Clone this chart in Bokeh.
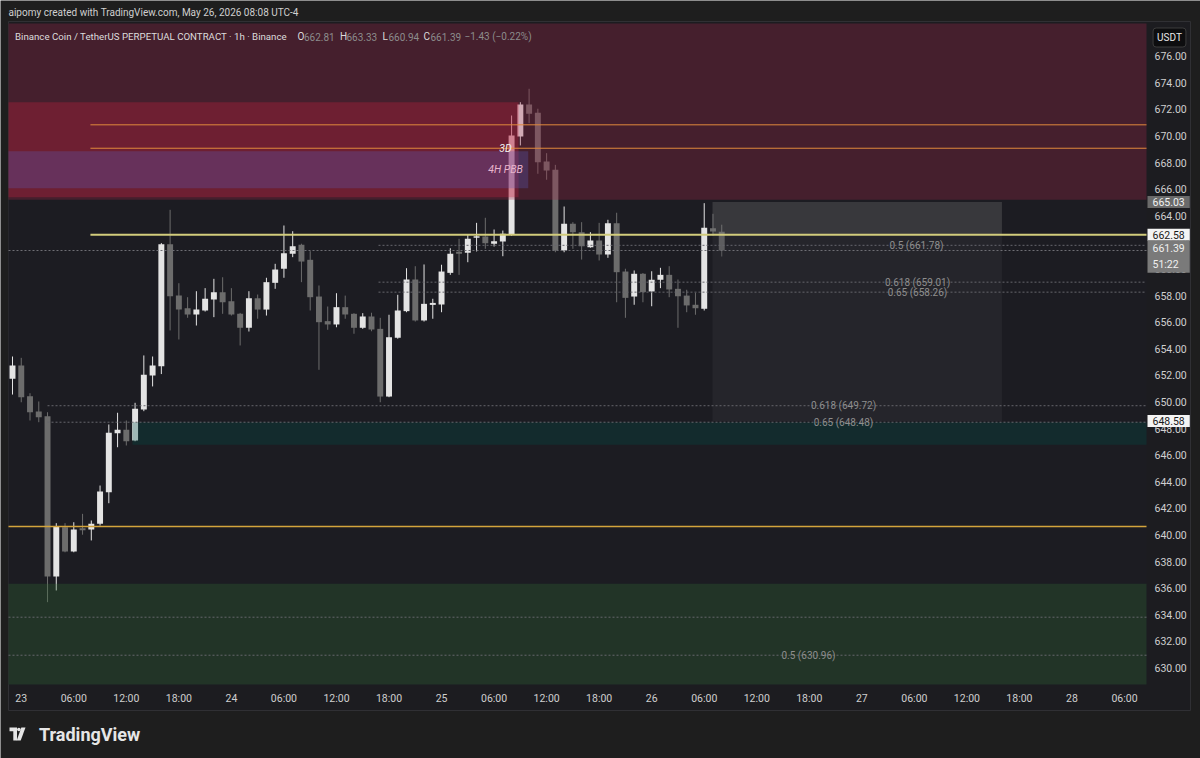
import numpy as np
from bokeh.plotting import figure
from bokeh.models import Range1d, FixedTicker, NumeralTickFormatter, Label, ColumnDataSource, LinearAxis
from bokeh.embed import file_html
from bokeh.resources import INLINE

# ---------------- data (BNB/USDT perpetual, 1h) ----------------
# hour offset from 23 May 00:00 (UTC-4)
hours = list(range(-1, 81))
opens = [651.74, 652.74, 650.44, 649.29, 648.93, 636.88, 640.59, 638.76, 640.45, 640.41,
         640.84, 643.22, 647.65, 647.91, 647.10, 649.44, 651.99, 652.69, 661.86, 658.00,
         657.05, 656.58, 656.88, 657.71, 658.26, 657.58, 656.63, 655.58, 657.80, 656.95,
         658.96, 660.02, 661.14, 661.82, 660.69, 657.93, 656.08, 655.83, 657.13, 656.63,
         655.58, 656.43, 655.50, 650.41, 654.83, 656.83, 659.21, 656.13, 657.30, 657.33,
         659.71, 661.25, 661.22, 662.35, 662.44, 661.89, 662.07, 662.59, 669.96, 672.37,
         671.74, 668.08, 667.46, 661.39, 663.40, 662.77, 661.64, 662.14, 661.09, 663.44,
         659.81, 657.93, 659.64, 658.31, 659.19, 659.56, 658.51, 658.00, 657.31, 657.01,
         663.07, 662.81]
highs = [653.42, 653.32, 650.66, 650.04, 649.23, 640.89, 640.89, 640.96, 641.59, 641.09,
         643.72, 648.31, 649.19, 648.61, 649.94, 653.50, 653.42, 661.95, 664.45, 658.93,
         657.88, 658.33, 658.56, 659.26, 659.38, 658.56, 656.70, 658.33, 658.08, 659.34,
         660.39, 663.27, 662.84, 661.90, 661.34, 658.76, 657.18, 658.18, 658.00, 656.68,
         656.68, 656.71, 656.33, 656.56, 658.06, 660.06, 660.21, 660.34, 657.76, 660.32,
         661.56, 662.27, 662.57, 663.47, 663.85, 662.97, 662.89, 671.54, 672.54, 673.55,
         672.05, 668.71, 667.83, 664.70, 663.52, 663.52, 662.77, 663.47, 663.70, 664.23,
         660.02, 659.89, 659.70, 659.83, 660.09, 660.21, 659.21, 658.44, 658.21, 664.95,
         664.15, 663.33]
lows = [650.56, 649.98, 648.61, 648.48, 634.95, 635.83, 638.70, 638.70, 640.02, 639.59,
        640.71, 642.39, 646.60, 646.73, 647.05, 649.31, 651.17, 652.10, 655.38, 654.70,
        656.33, 655.75, 656.80, 656.38, 656.63, 656.50, 654.25, 655.30, 656.26, 656.50,
        658.51, 659.34, 660.89, 659.01, 656.88, 652.42, 655.43, 655.62, 656.26, 655.13,
        655.50, 655.32, 649.98, 650.36, 654.76, 656.75, 656.05, 656.05, 656.26, 656.75,
        659.56, 659.56, 660.51, 661.32, 661.52, 661.69, 660.96, 662.50, 669.29, 670.96,
        667.16, 666.71, 661.26, 661.26, 661.52, 660.71, 661.60, 660.64, 660.84, 657.50,
        656.33, 657.31, 657.50, 657.20, 658.56, 657.88, 655.58, 656.75, 656.56, 656.88,
        662.50, 660.94]
closes = [652.74, 650.36, 649.23, 648.86, 636.88, 640.64, 638.76, 640.41, 640.40, 640.84,
          643.27, 647.68, 647.91, 647.05, 649.49, 652.05, 652.74, 661.86, 657.95, 656.95,
          656.58, 656.95, 657.76, 658.26, 657.50, 656.58, 655.58, 657.80, 656.95, 659.01,
          659.96, 661.19, 661.71, 660.56, 657.88, 656.00, 655.83, 657.13, 656.58, 655.58,
          656.43, 655.45, 650.41, 654.87, 656.88, 659.21, 656.13, 657.38, 657.45, 659.81,
          661.14, 661.20, 662.27, 662.47, 661.94, 662.09, 662.65, 670.04, 672.37, 671.67,
          668.03, 667.41, 661.39, 663.40, 662.77, 661.71, 662.14, 661.09, 663.44, 659.76,
          657.83, 659.64, 658.26, 659.19, 659.56, 658.46, 657.95, 657.26, 657.05, 663.10,
          662.82, 661.39]

x_tick_hours = list(range(0, 127, 6))
x_tick_labels = ["23", "06:00", "12:00", "18:00", "24", "06:00", "12:00", "18:00",
                 "25", "06:00", "12:00", "18:00", "26", "06:00", "12:00", "18:00",
                 "27", "06:00", "12:00", "18:00", "28", "06:00"]
y_ticks = list(range(630, 677, 2))

# zones: price bottom/top, time start/end (None = chart edge)
zone_bottom = [665.20, 665.40, 666.08, 646.78, None]
zone_top = [None, 672.54, 668.86, 648.48, 636.33]
zone_start = [None, None, None, 12.7, None]
zone_end = [None, 56.8, 57.9, None, None]

# horizontal rays
ray_levels = [670.84, 669.08, 662.58, 640.64]
ray_start = [7.9, 7.9, 7.9, None]

# fib levels
fib_ratio = ["0.5", "0.618", "0.65", "0.618", "0.65", None, "0.5"]
fib_levels = [661.78, 659.01, 658.26, 649.72, 648.48, 633.82, 630.96]
fib_start = [40.8, 40.8, 40.8, 3.0, 3.0, None, None]

# position tool
pos_target, pos_entry, pos_stop = 665.03, 662.58, 648.58
pos_t0, pos_t1 = 78.95, 112.0

# ---------------- geometry (page pixel -> data) ----------------
W, H = 1200, 758
PXH = 8.756     # px per hour
PXP = 13.3      # px per price unit


def hx(px):
    return -1 + (px - 12) / PXH


def py(pyy):
    return 676 - (pyy - 55.7) / PXP


L, R, T, B = hx(8), hx(1146), py(23), py(684)

OUTER = "#1e1e1e"
PANEL = "#1c1c20"
BG = "#1c1c22"
UP = "#e4e4e4"
DOWN = "#6c6c6c"
FONT = "Roboto"

p = figure(width=W, height=H, x_range=Range1d(hx(0), hx(W)), y_range=Range1d(py(H), py(0)),
           output_backend="svg", toolbar_location=None, x_axis_location=None, y_axis_location=None,
           min_border_left=0, min_border_right=0, min_border_top=0, min_border_bottom=0,
           background_fill_color=OUTER, border_fill_color=OUTER)
p.outline_line_color = None
p.xgrid.visible = False
p.ygrid.visible = False

# panel backgrounds
p.quad(left=hx(8), right=hx(1190), top=py(21), bottom=py(710), fill_color=PANEL,
       line_color="#303034", line_width=1)
p.quad(left=L, right=R, top=T, bottom=B, fill_color=BG, line_color=None)

# axes (drawn at the panel edges)
xax = LinearAxis(fixed_location=B, ticker=FixedTicker(ticks=x_tick_hours))
xax.major_label_overrides = {h: l for h, l in zip(x_tick_hours, x_tick_labels)}
yax = LinearAxis(fixed_location=R, ticker=FixedTicker(ticks=y_ticks),
                 formatter=NumeralTickFormatter(format="0.00"))
for ax in (xax, yax):
    ax.axis_line_color = None
    ax.major_tick_line_color = None
    ax.minor_tick_line_color = None
    ax.major_tick_out = 0
    ax.major_tick_in = 0
    ax.major_label_text_color = "#cfcfcf"
    ax.major_label_text_font = FONT
    ax.major_label_text_font_size = "10.5px"
xax.major_label_standoff = 7
yax.major_label_standoff = 8
p.add_layout(xax, "below")
p.add_layout(yax, "right")

# candles
o = np.array(opens); c = np.array(closes)
up = c >= o
colors = [UP if u else DOWN for u in up]
bt = np.maximum(o, c); bb = np.minimum(o, c)
thin = (bt - bb) < 0.1
bt = np.where(thin, bt + 0.05, bt); bb = np.where(thin, bb - 0.05, bb)
src = ColumnDataSource(dict(x=hours, h=highs, l=lows, t=bt, b=bb, col=colors))
p.segment(x0="x", x1="x", y0="l", y1="h", line_color="col", line_width=1, source=src)
p.vbar(x="x", width=0.68, top="t", bottom="b", fill_color="col", line_color=None, source=src)

# zones (translucent, over candles)
zone_colors = ["#a5294a", "#ce2040", "#5a5cbe", "#00514a", "#336c36"]
for zb, zt, zs, ze, zc in zip(zone_bottom, zone_top, zone_start, zone_end, zone_colors):
    p.quad(left=L if zs is None else zs, right=R if ze is None else ze,
           bottom=B if zb is None else zb, top=T if zt is None else zt,
           fill_color=zc, fill_alpha=0.3, line_color=None)

# position tool
p.quad(left=pos_t0, right=pos_t1, bottom=pos_entry, top=pos_target,
       fill_color="#7a7a7c", fill_alpha=0.3, line_color=None)
p.quad(left=pos_t0, right=pos_t1, bottom=pos_stop, top=pos_entry,
       fill_color="#3c3c42", fill_alpha=0.3, line_color=None)

# fib dotted lines
for lv, st in zip(fib_levels, fib_start):
    p.segment(x0=L if st is None else st, x1=R, y0=lv, y1=lv,
              line_color="#66666c", line_width=1, line_dash="2 2")
# current price line
p.segment(x0=L, x1=R, y0=closes[-1], y1=closes[-1],
          line_color="#6e6e74", line_width=1, line_dash="2 2")

# rays
ray_colors = ["#e08a3c", "#e08a3c", "#d2cc7c", "#d3a43c"]
ray_widths = [1, 1, 2, 1.5]
for lv, st, rc, rw in zip(ray_levels, ray_start, ray_colors, ray_widths):
    p.segment(x0=L if st is None else st, x1=R, y0=lv, y1=lv, line_color=rc, line_width=rw)


def lab(x, y, text, color, size="10px", align="left", **kw):
    p.add_layout(Label(x=x, y=y, text=text, text_align=align, text_baseline="middle",
                       text_color=color, text_font=FONT, text_font_size=size, **kw))


# fib labels
fib_label_px = [916, 917, 917, 843, 843, None, 808]
for r, lv, lx in zip(fib_ratio, fib_levels, fib_label_px):
    if r is not None:
        lab(hx(lx), lv, f"{r} ({lv:.2f})", "#8e8e8e", align="center")

# zone labels
lab(hx(505), py(148), "3D", "#f2f2f2", "10.5px", "center", text_font_style="italic")
lab(hx(505), py(169), "4H PBB", "#e8b4cc", "10.5px", "center", text_font_style="italic")

# header / legend
lab(hx(8), py(12), "aipomy created with TradingView.com, May 26, 2026 08:08 UTC-4", "#cfcfcf")
lab(hx(14.5), py(36), "Binance Coin / TetherUS PERPETUAL CONTRACT · 1h · Binance", "#dcdcdc", "9.7px")
chg = closes[-1] - closes[-2]
legend_items = [("O", f"{opens[-1]:.2f}", 297, 303.5), ("H", f"{highs[-1]:.2f}", 339.5, 346),
                ("L", f"{lows[-1]:.2f}", 382, 388), ("C", f"{closes[-1]:.2f}", 423, 430)]
for let, val, lx, vx in legend_items:
    lab(hx(lx), py(36), let, "#dcdcdc")
    lab(hx(vx), py(36), val, "#8c8c8c")
lab(hx(464), py(36), f"\u2212{abs(chg):.2f} (\u2212{abs(chg) / closes[-2] * 100:.2f}%)", "#8c8c8c")

# price scale tags
tag_x = hx(1147)
tags = [(f"{pos_target:.2f}", pos_target, "#6a6a6a", "#f0f0f0"),
        (f"{ray_levels[2]:.2f}", ray_levels[2], "#f4f4f4", "#1a1a1a"),
        (f"{closes[-1]:.2f}\n51:22", py(256), "#7a7a7a", "#f0f0f0"),
        (f"{pos_stop:.2f}", pos_stop, "#f4f4f4", "#1a1a1a")]
for txt, yv, bgc, tc in tags:
    lab(tag_x, yv, txt, tc, "10.5px", background_fill_color=bgc, padding=(5, 2))
lab(hx(1169), py(37), "USDT", "#e8e8e8", "10px", "center", background_fill_color="#0d0d0f",
    border_line_color="#3c3c3c", padding=4, border_radius=3)

# footer logo
p.patches(xs=[[hx(v) for v in (9, 16.5, 16.5, 12.8, 12.8, 9)], [hx(v) for v in (20.8, 25, 20.2, 16.2)]],
          ys=[[py(v) for v in (727, 727, 740, 740, 730.7, 730.7)], [py(v) for v in (727, 727, 740, 740)]],
          fill_color="#e6e6e6", line_color=None)
p.scatter(x=[hx(18.4)], y=[py(729)], size=3.6, marker="circle", fill_color="#e6e6e6", line_color=None)
lab(hx(38.5), py(734), "TradingView", "#e6e6e6", "18px", text_font_style="bold")

open("out.html", "w").write(file_html(p, INLINE))
